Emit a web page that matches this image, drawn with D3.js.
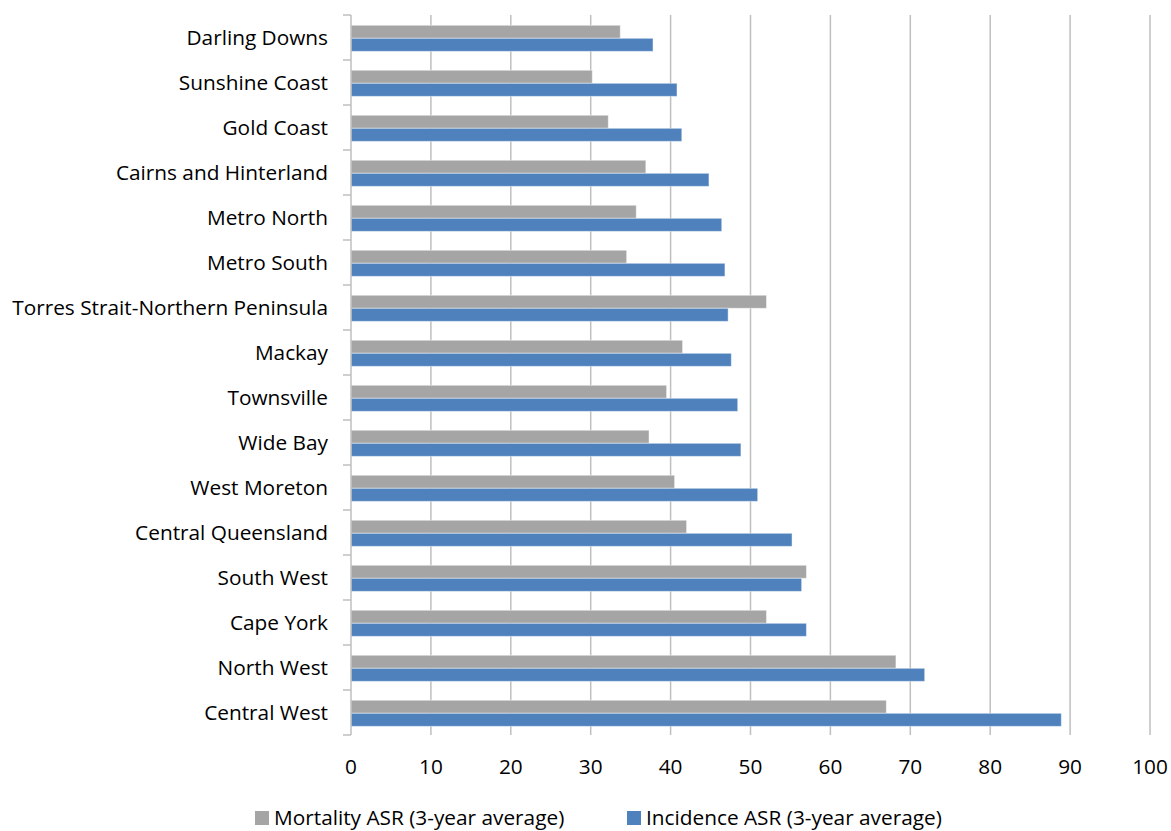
<!DOCTYPE html>
<html>
<head>
<meta charset="utf-8">
<script src="https://cdn.jsdelivr.net/npm/d3@7"></script>
<style>
  html, body { margin: 0; padding: 0; background: #fff; }
  svg { display: block; }
  text { font-family: "Open Sans", Lato, sans-serif; fill: #000; }
</style>
</head>
<body>
<div id="chart"></div>
<script>
// ── data ─────────────────────────────────────────────
const regions = [
  'Darling Downs', 'Sunshine Coast', 'Gold Coast', 'Cairns and Hinterland',
  'Metro North', 'Metro South', 'Torres Strait-Northern Peninsula', 'Mackay',
  'Townsville', 'Wide Bay', 'West Moreton', 'Central Queensland',
  'South West', 'Cape York', 'North West', 'Central West'
];
const mortality = [33.7, 30.2, 32.2, 36.9, 35.7, 34.5, 52.0, 41.5, 39.5, 37.3, 40.5, 42.0, 57.0, 52.0, 68.2, 67.0];
const incidence = [37.8, 40.8, 41.4, 44.8, 46.4, 46.8, 47.2, 47.6, 48.4, 48.8, 50.9, 55.2, 56.4, 57.0, 71.8, 88.9];
const xTicks = [0, 10, 20, 30, 40, 50, 60, 70, 80, 90, 100];
const seriesNames = ['Mortality ASR (3-year average)', 'Incidence ASR (3-year average)'];

// ── style ────────────────────────────────────────────
const W = 1171, H = 831;
const M = { top: 15, right: 21, bottom: 96, left: 351 };
const COLOR = { mortality: '#A5A5A5', incidence: '#4F81BD', grid: '#BFBFBF' };
const FONT_SIZE = 20.8;

const svg = d3.select('#chart').append('svg')
  .attr('width', W).attr('height', H);

const x = d3.scaleLinear().domain([0, 100]).range([M.left, W - M.right]);
const y = d3.scaleBand().domain(regions).range([M.top, H - M.bottom])
  .paddingInner(0.42).paddingOuter(0.21);
const ySub = d3.scaleBand().domain(['mortality', 'incidence']).range([0, y.bandwidth()]);

// gridlines
svg.append('g')
  .selectAll('line')
  .data(xTicks.slice(1))
  .join('line')
  .attr('x1', d => x(d)).attr('x2', d => x(d))
  .attr('y1', M.top).attr('y2', H - M.bottom)
  .attr('stroke', COLOR.grid).attr('stroke-width', 1.5);

// bars
const rows = regions.map((r, i) => ({ region: r, mortality: mortality[i], incidence: incidence[i] }));
const groups = svg.append('g')
  .selectAll('g')
  .data(rows)
  .join('g')
  .attr('transform', d => `translate(0,${y(d.region) + 0.8})`);

groups.selectAll('rect')
  .data(d => ['mortality', 'incidence'].map(k => ({ key: k, value: d[k] })))
  .join('rect')
  .attr('x', x(0))
  .attr('y', d => ySub(d.key))
  .attr('width', d => x(d.value) - x(0))
  .attr('height', ySub.bandwidth())
  .attr('fill', d => COLOR[d.key])
  .attr('stroke', 'rgba(255,255,255,0.45)')
  .attr('stroke-width', 1);

// y axis (line + ticks on band edges)
const yAxisG = svg.append('g');
yAxisG.append('line')
  .attr('x1', x(0)).attr('x2', x(0))
  .attr('y1', M.top).attr('y2', H - M.bottom)
  .attr('stroke', COLOR.grid).attr('stroke-width', 1.5);
const edges = regions.map(r => y(r) - y.step() * y.paddingInner() / 2);
edges.push(H - M.bottom);
yAxisG.selectAll('.tk')
  .data(edges)
  .join('line')
  .attr('class', 'tk')
  .attr('x1', x(0) - 8).attr('x2', x(0))
  .attr('y1', d => d).attr('y2', d => d)
  .attr('stroke', COLOR.grid).attr('stroke-width', 1.5);

// category labels
yAxisG.selectAll('text')
  .data(regions)
  .join('text')
  .attr('x', x(0) - 23)
  .attr('y', d => y(d) + y.bandwidth() / 2)
  .attr('dy', '0.36em')
  .attr('text-anchor', 'end')
  .style('font-size', FONT_SIZE + 'px')
  .text(d => d);

// x tick labels
svg.append('g')
  .selectAll('text')
  .data(xTicks)
  .join('text')
  .attr('x', d => x(d))
  .attr('y', 774)
  .attr('text-anchor', 'middle')
  .style('font-size', FONT_SIZE + 'px')
  .text(d => d);

// legend
const legendX = [255, 627];
const legend = svg.append('g')
  .selectAll('g')
  .data(seriesNames)
  .join('g')
  .attr('transform', (d, i) => `translate(${legendX[i]},0)`);
legend.append('rect')
  .attr('x', 0).attr('y', 811)
  .attr('width', 14).attr('height', 14)
  .attr('fill', (d, i) => i === 0 ? COLOR.mortality : COLOR.incidence);
legend.append('text')
  .attr('x', 19).attr('y', 825)
  .style('font-size', FONT_SIZE + 'px')
  .text(d => d);
</script>
</body>
</html>
